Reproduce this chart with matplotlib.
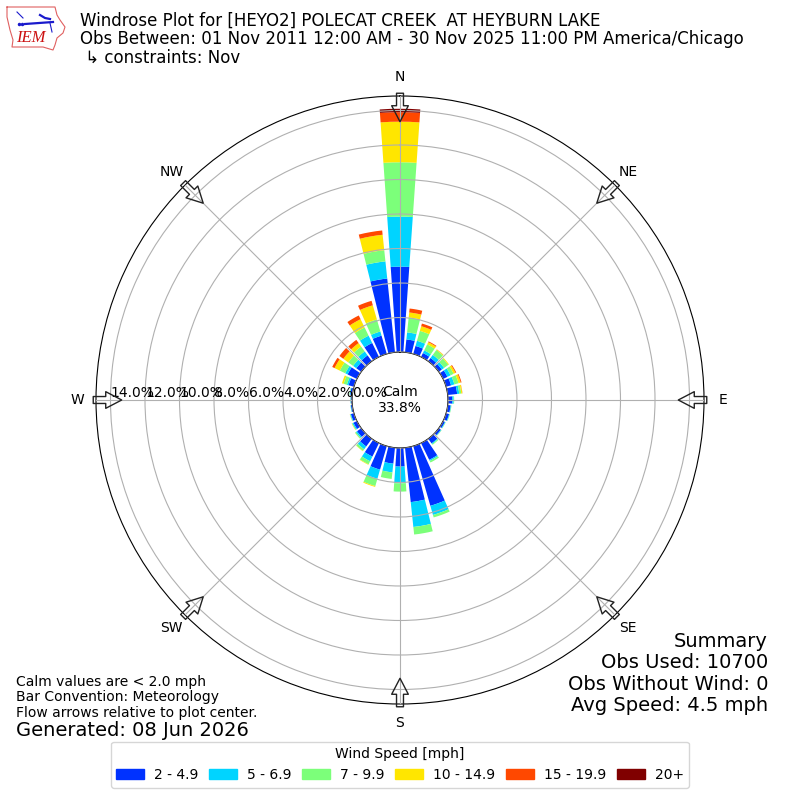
import matplotlib
matplotlib.use("Agg")
import matplotlib.pyplot as plt
from matplotlib.patches import Patch
import numpy as np

directions = np.arange(0, 360, 10)
speed_labels = ["2 - 4.9", "5 - 6.9", "7 - 9.9", "10 - 14.9", "15 - 19.9", "20+"]
speed_colors = ["#0032ff", "#00d4ff", "#7cff7a", "#ffe600", "#ff4800", "#800000"]

# percent of obs per direction (0, 10, ... 350) for each speed bin
speed_2_5 = [4.95, .75, .48, .25, .23, .22, .28, .3, .55, .25, .17, .18, .12, .15, .33, 1.08, 3.6, 3.17,
             1.08, .93, 1.42, .87, .55, .3, .22, .18, .08, .07, .12, .32, .6, .35, .42, .9, 1.1, 4.3]
speed_5_7 = [2.9, .41, .31, .17, .22, .16, .2, .2, .12, .08, .03, .03, .03, .03, .05, .07, .55, 1.45,
             .97, .51, .55, .3, .2, .08, .07, .04, .02, .02, .03, .1, .15, .23, .28, .47, .25, 1.0]
speed_7_10 = [3.15, .87, .6, .39, .35, .3, .2, .25, .12, .03, .02, .02, .02, .02, .05, .1, .15, .44,
              .48, .38, .44, .2, .12, .06, .03, .02, .01, .01, .02, .2, .35, .35, .35, .53, .73, .65]
speed_10_15 = [2.35, .29, .28, .14, .04, .05, .12, .13, .06, 0, 0, 0, 0, 0, 0, 0, 0, 0,
               0, 0, .05, .03, .02, .01, .02, .01, 0, 0, 0, .1, .34, .35, .25, .53, .85, .9]
speed_15_20 = [.55, .23, .16, .05, .01, 0, .05, .05, .01, 0, 0, 0, 0, 0, 0, 0, 0, 0,
               0, 0, 0, 0, 0, 0, 0, 0, 0, 0, 0, 0, .15, .28, .23, .24, .27, .25]
speed_20 = [.2, 0, 0, 0, 0, 0, 0, 0, 0, 0, 0, 0, 0, 0, 0, 0, 0, 0,
            0, 0, 0, 0, 0, 0, 0, 0, 0, 0, 0, 0, 0, 0, 0, 0, 0, 0]
speed_bins = [speed_2_5, speed_5_7, speed_7_10, speed_10_15, speed_15_20, speed_20]

compass_angles = [0, 45, 90, 135, 180, 225, 270, 315]
compass_labels = ["N", "NE", "E", "SE", "S", "SW", "W", "NW"]
radial_ticks = [0, 2, 4, 6, 8, 10, 12, 14]

title_text = ("Windrose Plot for [HEYO2] POLECAT CREEK  AT HEYBURN LAKE\n"
              "Obs Between: 01 Nov 2011 12:00 AM - 30 Nov 2025 11:00 PM America/Chicago\n"
              " \u21b3 constraints: Nov")
calm_text = "Calm\n33.8%"
notes_text = "Calm values are < 2.0 mph\nBar Convention: Meteorology\nFlow arrows relative to plot center."
generated_text = "Generated: 08 Jun 2026"
summary_text = "Summary\nObs Used: 10700\nObs Without Wind: 0\nAvg Speed: 4.5 mph"

# logo outline, in pixels from the top left of the figure
logo_x = [7, 55, 57, 60, 65, 63, 57, 55, 53, 43, 12, 13, 10, 7, 7]
logo_y = [7, 7, 15, 20, 27, 33, 38, 45, 50, 47, 47, 40, 30, 17, 7]

fig = plt.figure(figsize=(8, 8), dpi=100)
ax = fig.add_axes([0.12, 0.12, 0.76, 0.76], projection="polar")
ax.set_theta_zero_location("N")
ax.set_theta_direction(-1)

# stack the bars, grid stays on top of them
bottom = np.zeros(len(directions))
for values, color in zip(speed_bins, speed_colors):
    ax.bar(np.radians(directions), values, width=np.radians(8), bottom=bottom,
           color=color, linewidth=0, zorder=1)
    bottom += np.array(values)

ax.set_rorigin(-2.78)
ax.set_rmin(0)
ax.set_rmax(14.84)
ax.set_axisbelow(False)
ax.set_xticks(np.radians(compass_angles))
ax.set_xticklabels(compass_labels, fontsize=10)
ax.set_yticks(radial_ticks)
ax.set_yticklabels(["%.1f%%" % t for t in radial_ticks], fontsize=10)
ax.set_rlabel_position(270)
ax.tick_params(axis="x", pad=3)
ax.grid(True, color="#b0b0b0", linewidth=0.8)

# flow arrows point at the center
for angle in compass_angles:
    ax.annotate("", xy=(np.radians(angle), 13.35), xytext=(np.radians(angle), 15.0),
                annotation_clip=False, zorder=5,
                arrowprops=dict(facecolor="none", edgecolor="#222222", linewidth=1,
                                width=5, headwidth=12, headlength=11.5))

ax.text(0.5, 0.5, calm_text, transform=ax.transAxes, ha="center", va="center", fontsize=10)

fig.text(0.1, 0.985, title_text, ha="left", va="top", fontsize=12, linespacing=1.02)
fig.text(0.02, 0.1, notes_text, ha="left", va="bottom", fontsize=10, linespacing=1.15)
fig.text(0.02, 0.0875, generated_text, ha="left", va="center", fontsize=14)
fig.text(0.96, 0.106, summary_text, ha="right", va="bottom", fontsize=14, linespacing=1.17)

handles = [Patch(color=c, label=l) for c, l in zip(speed_colors, speed_labels)]
fig.legend(handles=handles, title="Wind Speed [mph]", ncol=6, fontsize=10, title_fontsize=10,
           loc="lower center", bbox_to_anchor=(0.5, 0.0068), columnspacing=0.8, handletextpad=0.7)

# IEM logo, rough copy
logo = fig.add_axes([0, 1 - 60 / 800, 70 / 800, 60 / 800])
logo.set_xlim(0, 70)
logo.set_ylim(60, 0)
logo.axis("off")
logo.plot(logo_x, logo_y, color="#e06060", linewidth=0.8)
logo.plot([25, 53], [24, 22], color="#1a1acc", linewidth=1.6)
logo.plot([40, 45, 50], [15, 18, 19], color="#1a1acc", linewidth=1.6)
logo.plot([17, 23], [12, 18], color="#1a1acc", linewidth=0.8)
logo.plot([50, 52], [23, 32], color="#1a1acc", linewidth=0.8)
logo.plot([19, 22], [24, 24], "o", color="#1a1acc", markersize=1.5)
logo.text(30.5, 38, "IEM", color="#cc1111", fontsize=12, family="Liberation Serif",
          style="italic", ha="center", va="center")

plt.savefig("out.png", dpi=100)
